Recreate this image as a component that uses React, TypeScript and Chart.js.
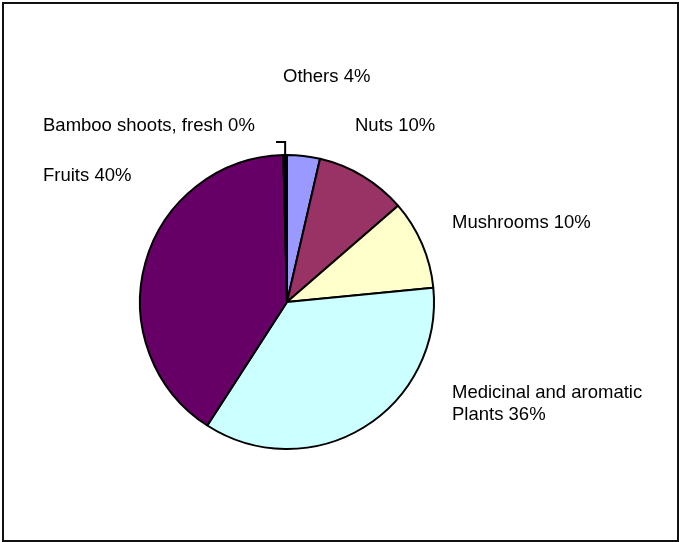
import React, { useEffect, useRef } from "react";
import { Chart, registerables } from "chart.js";

Chart.register(...registerables);

const categories = [
  "Others",
  "Nuts",
  "Mushrooms",
  "Medicinal and aromatic\nPlants",
  "Fruits",
  "Bamboo shoots, fresh",
];
const shares = [3.6, 10.0, 9.8, 35.6, 40.4, 0.4];
const sliceColors = ["#9999FF", "#993366", "#FFFFCC", "#CCFFFF", "#660066", "#000000"];

// label anchor offsets (left x, middle y of first line) relative to pie centre
const labelOffsets = [
  [-4, -225],
  [68, -176],
  [165, -79],
  [165, 91],
  [-244, -126],
  [-244, -176],
];

const labelPlugin = {
  id: "manualLabels",
  afterDraw(chart: any) {
    const ctx = chart.ctx;
    const meta = chart.getDatasetMeta(0);
    const first = meta.data[0];
    const cx = first.x;
    const cy = first.y;
    const r = first.outerRadius;
    ctx.save();
    ctx.font = '18.5px "Liberation Sans", Arial, sans-serif';
    ctx.fillStyle = "#000";
    ctx.textBaseline = "middle";
    ctx.textAlign = "left";
    categories.forEach((cat, i) => {
      const text = cat + " " + Math.round(shares[i]) + "%";
      const lines = text.split("\n");
      const [dx, dy] = labelOffsets[i];
      lines.forEach((ln, j) => {
        ctx.fillText(ln, cx + dx, cy + dy + j * 22);
      });
    });
    // leader line for the tiny slice
    const bamboo = meta.data[5];
    const mid = (bamboo.startAngle + bamboo.endAngle) / 2;
    const px = cx + Math.cos(mid) * r;
    const py = cy + Math.sin(mid) * r;
    ctx.strokeStyle = "#000";
    ctx.lineWidth = 2;
    ctx.beginPath();
    ctx.moveTo(px, py);
    ctx.lineTo(px, cy - 160);
    ctx.lineTo(cx - 11, cy - 160);
    ctx.stroke();
    // outer frame
    ctx.lineWidth = 2;
    ctx.strokeStyle = "#111";
    ctx.strokeRect(3, 3, chart.width - 4, chart.height - 4);
    ctx.restore();
  },
};

export default function App() {
  const ref = useRef<HTMLCanvasElement | null>(null);
  useEffect(() => {
    if (!ref.current) return;
    const chart = new Chart(ref.current, {
      type: "pie",
      data: {
        labels: categories,
        datasets: [
          {
            data: shares,
            backgroundColor: sliceColors,
            borderColor: "#000",
            borderWidth: 2,
          },
        ],
      },
      options: {
        responsive: false,
        animation: false,
        devicePixelRatio: 1,
        radius: 147,
        layout: { padding: { left: 0, right: 105, top: 62, bottom: 0 } },
        plugins: {
          legend: { display: false },
          tooltip: { enabled: false },
        },
      } as any,
      plugins: [labelPlugin],
    });
    return () => chart.destroy();
  }, []);
  return (
    <div style={{ position: "absolute", left: 0, top: 0, width: 679, height: 542, background: "#fff" }}>
      <canvas ref={ref} width={679} height={542} style={{ display: "block" }} />
    </div>
  );
}
